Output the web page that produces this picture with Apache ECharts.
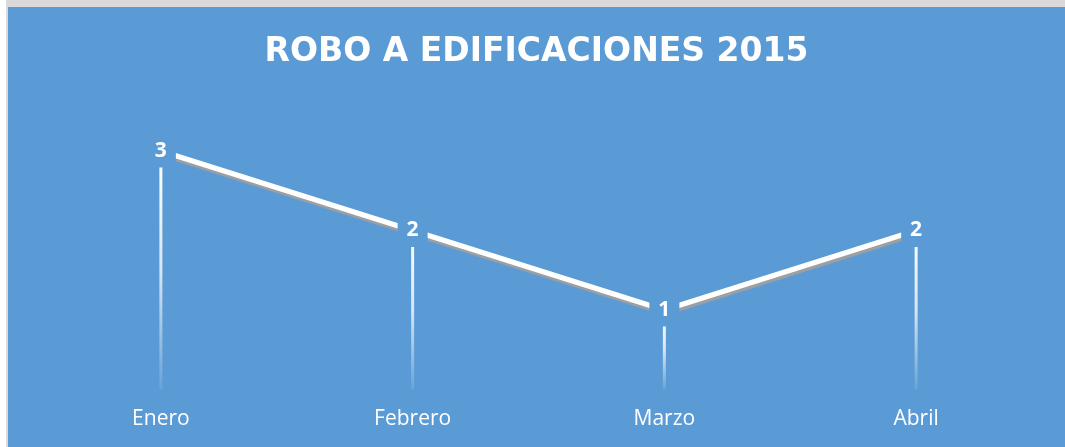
<!DOCTYPE html>
<html>
<head>
<meta charset="utf-8">
<script src="https://cdn.jsdelivr.net/npm/echarts@6/dist/echarts.min.js"></script>
<style>
  html, body { margin: 0; padding: 0; background: #ffffff; width: 1065px; height: 447px; overflow: hidden; }
  #frame { position: absolute; left: 6px; top: 0; width: 1059px; height: 447px; background: #d9d9d9; }
  #chart { position: absolute; left: 8px; top: 7px; width: 1057px; height: 440px; }
</style>
</head>
<body>
<div id="frame"></div>
<div id="chart"></div>
<script>
const titleText = 'ROBO A EDIFICACIONES 2015';
const categories = ['Enero', 'Febrero', 'Marzo', 'Abril'];
const values = [3, 2, 1, 2];

const BG = '#5B9BD5';
const chart = echarts.init(document.getElementById('chart'), null, { renderer: 'canvas' });
chart.setOption({
  backgroundColor: BG,
  animation: false,
  title: {
    text: titleText,
    left: 'center',
    top: 29,
    padding: 0,
    textStyle: { color: '#ffffff', fontFamily: 'DejaVu Sans', fontWeight: 'bold', fontSize: 33 }
  },
  grid: { left: 27, right: 23, top: 144, bottom: 57.5, containLabel: false },
  xAxis: {
    type: 'category',
    data: categories,
    boundaryGap: true,
    axisLine: { show: false },
    axisTick: { show: false },
    splitLine: { show: false },
    axisLabel: { color: '#ffffff', fontFamily: 'Open Sans', fontSize: 21, margin: 19 }
  },
  yAxis: {
    type: 'value',
    min: 0,
    max: 3,
    show: false,
    splitLine: { show: false }
  },
  series: [
    {
      type: 'bar',
      data: values,
      barWidth: 3,
      z: 1,
      silent: true,
      itemStyle: {
        color: new echarts.graphic.LinearGradient(0, 0, 0, 1, [
          { offset: 0, color: 'rgba(255,255,255,1)' },
          { offset: 0.5, color: 'rgba(255,255,255,0.75)' },
          { offset: 1, color: 'rgba(255,255,255,0.08)' }
        ])
      }
    },
    {
      type: 'line',
      data: values,
      z: 3,
      symbol: 'circle',
      symbolSize: 1,
      showSymbol: true,
      itemStyle: { color: BG },
      lineStyle: {
        color: '#ffffff',
        width: 5,
        shadowColor: 'rgba(160,160,160,0.95)',
        shadowBlur: 1,
        shadowOffsetX: 1,
        shadowOffsetY: 3
      },
      label: {
        show: true,
        position: 'inside',
        color: '#ffffff',
        fontFamily: 'Open Sans',
        fontWeight: 'bold',
        fontSize: 21,
        backgroundColor: BG,
        padding: [6, 9, 6, 9]
      }
    }
  ]
});
</script>
</body>
</html>
